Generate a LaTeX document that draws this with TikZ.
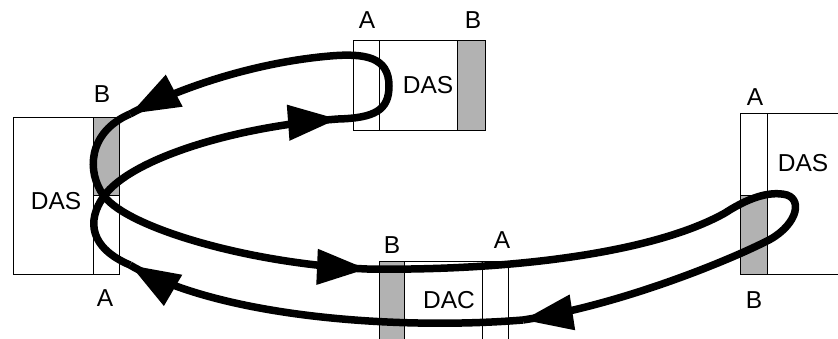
\documentclass[tikz,border=0pt]{standalone}
\usepackage{fontspec}
\setmainfont{Liberation Sans}
\usetikzlibrary{arrows.meta,decorations.markings}
\definecolor{portgray}{gray}{0.7}
\tikzset{
  station/.style={draw, line width=1pt, inner sep=0pt, fill=white},
  porta/.style={draw, line width=1pt, inner sep=0pt, fill=white},
  portb/.style={draw, line width=1pt, inner sep=0pt, fill=portgray},
  lbl/.style={font=\fontsize{24.5}{29}\selectfont, inner sep=0pt},
  ringline/.style={line width=7.5pt},
  flowtip/.style={postaction={decorate}, decoration={markings,
    mark=at position 1 with {\arrow{Triangle[length=50pt,width=34pt]}}}}
}
\begin{document}
\begin{tikzpicture}[x=1pt, y=-1pt]
  \useasboundingbox (0,0) rectangle (838,339);
  \clip (0,0) rectangle (838,339);
  % stations
  \node[station, minimum width=106, minimum height=156] (das1) at (66,196) {};
  \node[portb, minimum width=26, minimum height=78] (das1b) at (106,157) {};
  \node[porta, minimum width=26, minimum height=78] (das1a) at (106,235) {};
  \node[station, minimum width=132, minimum height=90] (das2) at (419,86) {};
  \node[porta, minimum width=26, minimum height=90] (das2a) at (366,86) {};
  \node[portb, minimum width=28, minimum height=90] (das2b) at (471,86) {};
  \node[station, minimum width=129, minimum height=84] (dac) at (443.5,303) {};
  \node[portb, minimum width=25, minimum height=84] (dacb) at (391.5,303) {};
  \node[porta, minimum width=26, minimum height=84] (daca) at (495,303) {};
  \node[station, minimum width=110, minimum height=160] (das3) at (795,194) {};
  \node[porta, minimum width=27, minimum height=82] (das3a) at (753.5,155) {};
  \node[portb, minimum width=27, minimum height=78] (das3b) at (753.5,235) {};
  % labels
  \node[lbl] (das1t) at (56,201) {DAS};
  \node[lbl] (das1bt) at (102,94) {B};
  \node[lbl] (das1at) at (105,298) {A};
  \node[lbl] (das2t) at (428,85) {DAS};
  \node[lbl] (das2at) at (367,20) {A};
  \node[lbl] (das2bt) at (473,20) {B};
  \node[lbl] (dact) at (449,300) {DAC};
  \node[lbl] (dacbt) at (392,245) {B};
  \node[lbl] (dacat) at (502,240) {A};
  \node[lbl] (das3t) at (803,163) {DAS};
  \node[lbl] (das3at) at (755,97) {A};
  \node[lbl] (das3bt) at (754,300) {B};
  % ring
  \coordinate (cross) at (104,196);
  \coordinate (topturn) at (389,86);
  \coordinate (t1) at (130,114);
  \coordinate (t2) at (367,269);
  \coordinate (t3) at (523,320);
  \coordinate (t4) at (130,265);
  \coordinate (t5) at (338,119);
  \draw[ringline, flowtip] (t5) .. controls (375,118) and (389,110) .. (topturn)
    .. controls (389,57) and (365,53) .. (330,56)
    .. controls (260,62) and (185,85) .. (t1);
  \draw[ringline, flowtip] (t1) .. controls (88,132) and (86,172) .. (cross)
    .. controls (128,228) and (250,264) .. (t2);
  \draw[ringline, flowtip] (t2) .. controls (500,271) and (650,255) .. (725,213)
    .. controls (745,200) and (768,190) .. (787,195)
    .. controls (804,201) and (795,228) .. (765,242)
    .. controls (725,262) and (620,305) .. (t3);
  \draw[ringline, flowtip] (t3) .. controls (400,330) and (220,318) .. (t4);
  \draw[ringline, flowtip] (t4) .. controls (90,248) and (86,221) .. (cross)
    .. controls (130,160) and (230,127) .. (t5);
\end{tikzpicture}
\end{document}
